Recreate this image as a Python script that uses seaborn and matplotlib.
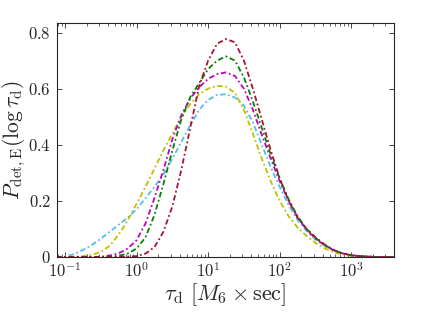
import numpy as np
import matplotlib
matplotlib.use("Agg")
import matplotlib.pyplot as plt
import seaborn as sns
from matplotlib.ticker import LogLocator, NullFormatter, FixedLocator

# log10(tau_d) sample points
log_tau = [-1.125, -1.0, -0.875, -0.75, -0.625, -0.5, -0.375, -0.25, -0.125,
           0.0, 0.125, 0.25, 0.375, 0.5, 0.625, 0.75, 0.875, 1.0, 1.125,
           1.25, 1.375, 1.5, 1.625, 1.75, 1.875, 2.0, 2.125, 2.25, 2.375,
           2.5, 2.625, 2.75, 2.875, 3.0, 3.125, 3.25, 3.375, 3.5, 3.625]

p_blue = [0, 0.002, 0.01, 0.025, 0.043, 0.065, 0.09, 0.115, 0.14,
          0.17, 0.21, 0.25, 0.295, 0.35, 0.41, 0.47, 0.525, 0.56, 0.578,
          0.58, 0.568, 0.54, 0.48, 0.40, 0.32, 0.25, 0.185, 0.132, 0.092,
          0.062, 0.04, 0.024, 0.013, 0.006, 0.003, 0.001, 0, 0, 0]
p_yellow = [0, 0, 0.001, 0.003, 0.008, 0.018, 0.04, 0.08, 0.13,
            0.19, 0.25, 0.315, 0.38, 0.44, 0.50, 0.545, 0.58, 0.60, 0.61,
            0.607, 0.585, 0.525, 0.44, 0.35, 0.27, 0.20, 0.145, 0.105, 0.075,
            0.05, 0.031, 0.018, 0.009, 0.004, 0.002, 0.001, 0, 0, 0]
p_magenta = [0, 0, 0, 0, 0, 0.001, 0.005, 0.013, 0.03,
             0.06, 0.12, 0.21, 0.31, 0.42, 0.505, 0.565, 0.605, 0.635, 0.652,
             0.658, 0.645, 0.60, 0.525, 0.435, 0.35, 0.27, 0.20, 0.142, 0.098,
             0.066, 0.042, 0.025, 0.013, 0.006, 0.003, 0.001, 0, 0, 0]
p_green = [0, 0, 0, 0, 0, 0, 0.001, 0.004, 0.012,
           0.03, 0.07, 0.15, 0.26, 0.38, 0.49, 0.57, 0.62, 0.67, 0.70,
           0.715, 0.70, 0.64, 0.555, 0.46, 0.365, 0.28, 0.205, 0.145, 0.10,
           0.068, 0.043, 0.025, 0.013, 0.006, 0.003, 0.001, 0, 0, 0]
p_darkred = [0, 0, 0, 0, 0, 0, 0, 0, 0.001,
             0.003, 0.012, 0.035, 0.09, 0.18, 0.31, 0.46, 0.61, 0.70, 0.76,
             0.777, 0.765, 0.70, 0.60, 0.49, 0.38, 0.28, 0.20, 0.14, 0.10,
             0.07, 0.045, 0.025, 0.013, 0.006, 0.003, 0.001, 0, 0, 0]

curves = [p_blue, p_yellow, p_magenta, p_green, p_darkred]
colors = ["#4DBEEE", "#BFBF00", "#BF00BF", "#008000", "#A2142F"]

y_ticks = [0, 0.2, 0.4, 0.6, 0.8]
y_labels = ["$0$", "$0.2$", "$0.4$", "$0.6$", "$0.8$"]
x_ticks = [0.1, 1, 10, 100, 1000]
x_labels = ["$10^{-1}$", "$10^{0}$", "$10^{1}$", "$10^{2}$", "$10^{3}$"]

sns.set_style("ticks")
plt.rcParams["mathtext.fontset"] = "cm"
plt.rcParams["font.family"] = ["DejaVu Serif"]
axcol = "#262626"

fig = plt.figure(figsize=(4.36, 3.13), dpi=100)
ax = fig.add_axes([0.1296, 0.179, 0.7748, 0.7466])

tau = 10 ** np.array(log_tau)
for vals, c in zip(curves, colors):
    sns.lineplot(x=tau, y=vals, color=c, linestyle=(0, (3, 1.5, 1, 1.5)),
                 linewidth=1.3, ax=ax, estimator=None, sort=False)

ax.set_xscale("log")
ax.set_xlim(0.076, 4000)
ax.set_ylim(0, 0.833)
ax.xaxis.set_major_locator(FixedLocator(x_ticks))
ax.set_xticklabels(x_labels, fontsize=12, color=axcol)
ax.xaxis.set_minor_locator(LogLocator(base=10, subs=np.arange(2, 10)))
ax.xaxis.set_minor_formatter(NullFormatter())
ax.set_yticks(y_ticks)
ax.set_yticklabels(y_labels, fontsize=12, color=axcol)

for s in ax.spines.values():
    s.set_visible(True)
    s.set_color(axcol)
    s.set_linewidth(0.8)
ax.tick_params(which="both", direction="in", top=True, right=True, color=axcol)
ax.tick_params(which="major", length=3.5, width=0.6, pad=4)
ax.tick_params(which="minor", length=2, width=0.5)

ax.set_xlabel(r"$\tau_{\rm d}\ [M_6\times{\rm sec}]$", fontsize=16, color=axcol, labelpad=0)
ax.set_ylabel(r"$P_{\rm det,E}(\log\tau_{\rm d})$", fontsize=15.5, color=axcol, labelpad=0)

fig.savefig("out.png", dpi=100)
